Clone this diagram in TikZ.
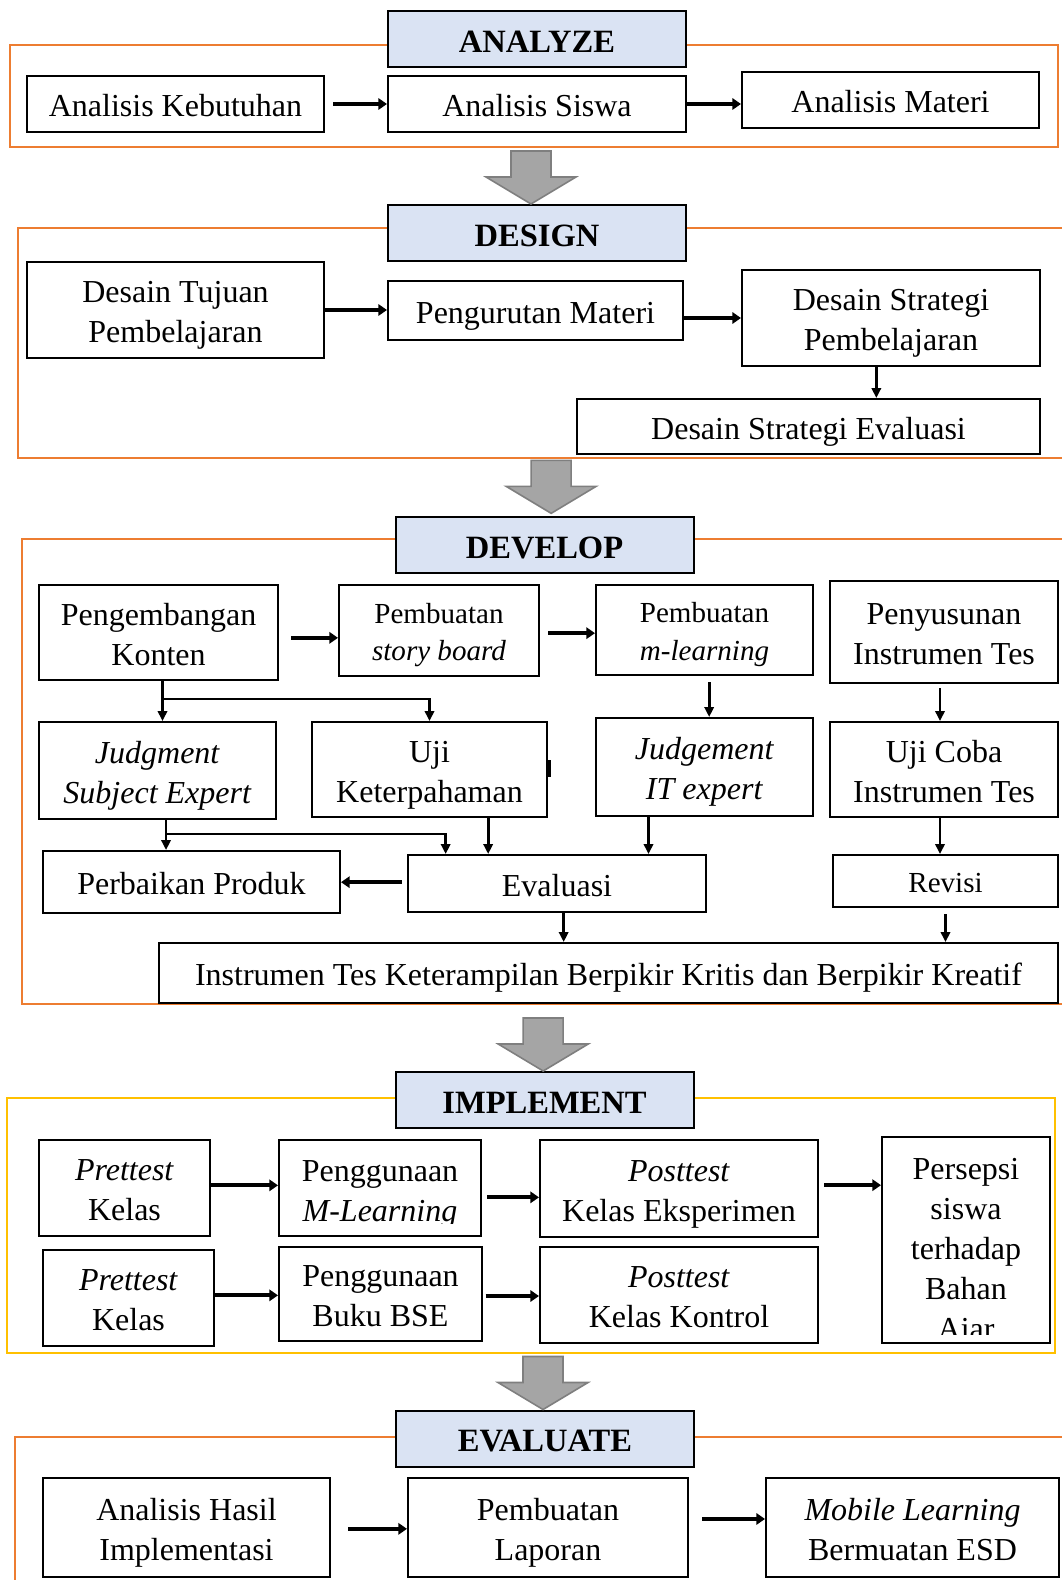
\documentclass[tikz,border=0pt]{standalone}
\usepackage{fontspec}
\setmainfont{Liberation Serif}
\usetikzlibrary{arrows.meta}

\definecolor{oranye}{HTML}{ED7D31}
\definecolor{kuning}{HTML}{FFC000}
\definecolor{birumuda}{HTML}{DAE3F3}
\definecolor{abutua}{HTML}{7F7F7F}
\definecolor{abumuda}{HTML}{A5A5A5}

\newcommand{\teks}{\fontsize{24}{30}\selectfont}
\newcommand{\tekskecil}{\fontsize{21.8}{25.5}\selectfont}
% strut at the start of the first line and the end of the last line
\newcommand{\tiang}{\rule[-0.22em]{0pt}{1.24em}}
% gray block arrow, tip on the given point
\newcommand{\panahabu}[1]{\draw[abu] (#1) -- ++(45,-27) -- ++(-25,0) -- ++(0,-26) -- ++(-40,0) -- ++(0,26) -- ++(-25,0) -- cycle;}

\tikzset{every picture/.style={line width=0.75pt},
  kotak/.style n args={2}{draw, line width=1.5pt, fill=white, align=center, inner sep=0pt, minimum width=#1*0.75pt, minimum height=#2*0.75pt, font=\teks},
  judul/.style={kotak={298}{56}, fill=birumuda, font=\fontsize{24.4}{30}\selectfont\bfseries},
  bingkai/.style={draw=oranye, line width=1.5pt},
  panah/.style={-{Triangle[width=8.5pt,length=6.5pt]}, line width=3pt},
  panahd/.style={-{Triangle[width=7pt,length=7.5pt]}, line width=2pt},
  abu/.style={draw=abutua, fill=abumuda, line width=1.2pt},
  isi/.style={font=\teks, align=center, inner sep=0pt, anchor=north}}

\begin{document}
\begin{tikzpicture}[x=0.75pt,y=0.75pt,yscale=-1,xscale=1]
	\useasboundingbox (0,0) rectangle (1062,1580);
	% frames
	\draw[bingkai] (10,45) rectangle (1058,147);
	\draw[bingkai] (18,228) rectangle (1068,458);
	\draw[bingkai] (22,539) rectangle (1068,1004);
	\draw[bingkai, draw=kuning] (7,1098) rectangle (1055,1353);
	\draw[bingkai] (15,1437) rectangle (1068,1600);

	% ANALYZE
	\node[judul] (analyze) at (537,39.5) {\tiang ANALYZE\tiang};
	\node[kotak={297}{56}] (kebutuhan) at (175.5,104) {\tiang Analisis Kebutuhan\tiang};
	\node[kotak={298}{56}] (siswa) at (537,104) {\tiang Analisis Siswa\tiang};
	\node[kotak={297}{56}] (materi) at (890.5,100) {\tiang Analisis Materi\tiang};
	\draw[panah] ([xshift=6pt]kebutuhan.east) -- (siswa.west);
	\draw[panah] (siswa.east) -- (siswa.east -| materi.west);

	% DESIGN
	\node[judul] (design) at (537,233) {\tiang DESIGN\tiang};
	\node[kotak={297}{96}] (tujuan) at (175.5,310) {\tiang Desain Tujuan\\Pembelajaran\tiang};
	\node[kotak={295}{59}] (urutan) at (535.5,310.5) {\tiang Pengurutan Materi\tiang};
	\node[kotak={298}{96}] (strategi) at (891,318) {\tiang Desain Strategi\\Pembelajaran\tiang};
	\node[kotak={463}{55}] (stratevaluasi) at (808.5,426.5) {\tiang Desain Strategi Evaluasi\tiang};
	\draw[panah] (tujuan.east) -- (tujuan.east -| urutan.west);
	\draw[panah] (urutan.east |- strategi.west) -- (strategi.west);
	\draw[panahd] ([xshift=-11pt]strategi.south) -- ([xshift=-11pt]strategi.south |- stratevaluasi.north);

	% DEVELOP
	\node[judul] (develop) at (544.5,545) {\tiang DEVELOP\tiang};
	\node[kotak={239}{95}] (konten) at (158.5,632.5) {\tiang Pengembangan\\Konten\tiang};
	\node[kotak={200}{91}, font=\tekskecil] (storyboard) at (439,630.5) {\tiang Pembuatan\\\textit{story board}\tiang};
	\node[kotak={217}{90}, font=\tekskecil] (mlearning) at (704.5,630) {\tiang Pembuatan\\\textit{m-learning}\tiang};
	\node[kotak={228}{102}] (penyusunan) at (944,632) {\tiang Penyusunan\\Instrumen Tes\tiang};
	\node[kotak={237}{97}] (judgment) at (157.5,770.5) {\tiang\textit{Judgment}\\\textit{Subject Expert}\tiang};
	\node[kotak={235}{95}] (uji) at (429.5,769.5) {\tiang Uji\\Keterpahaman\tiang};
	\node[kotak={217}{98}] (itexpert) at (704.5,767) {\tiang\textit{Judgement}\\\textit{IT expert}\tiang};
	\node[kotak={228}{95}] (ujicoba) at (944,769.5) {\tiang Uji Coba\\Instrumen Tes\tiang};
	\node[kotak={297}{62}] (perbaikan) at (191.5,882) {\tiang Perbaikan Produk\tiang};
	\node[kotak={298}{57}] (evaluasi) at (557,883.5) {\tiang Evaluasi\tiang};
	\node[kotak={225}{52}, font=\tekskecil] (revisi) at (945.5,881) {\tiang Revisi\tiang};
	\node[kotak={899}{60}] (instrumen) at (608.5,973) {\tiang Instrumen Tes Keterampilan Berpikir Kritis dan Berpikir Kreatif\tiang};
	% thick mark on the right side of Uji Keterpahaman
	\draw[line width=2.2pt] ([xshift=1pt,yshift=-7pt]uji.east) -- ([xshift=1pt,yshift=5.5pt]uji.east);
	\draw[panah] ([xshift=9pt,yshift=4pt]konten.east) -- ([yshift=4pt]konten.east -| storyboard.west);
	\draw[panah] ([xshift=6pt,yshift=2pt]storyboard.east) -- ([yshift=2pt]storyboard.east -| mlearning.west);
	\draw[panahd] ([xshift=3pt]konten.south) -- ([xshift=3pt]konten.south |- judgment.north);
	\draw[panahd] ([xshift=3pt,yshift=13.5pt]konten.south) -| (uji.north);
	\draw[panahd] ([xshift=3.5pt,yshift=4.5pt]mlearning.south) -- ([xshift=3.5pt]mlearning.south |- itexpert.north);
	\draw[panahd] ([xshift=-3pt,yshift=3pt]penyusunan.south) -- ([xshift=-3pt]penyusunan.south |- ujicoba.north);
	\draw[panahd] ([xshift=6.4pt]judgment.south) -- ([xshift=6.4pt]judgment.south |- perbaikan.north);
	\draw[panahd] ([xshift=6.4pt,yshift=10.5pt]judgment.south) -| ([xshift=29pt]evaluasi.north west);
	\draw[panahd] ([xshift=44pt]uji.south) -- ([xshift=44pt]uji.south |- evaluasi.north);
	\draw[panahd] ([xshift=-42pt]itexpert.south) -- ([xshift=-42pt]itexpert.south |- evaluasi.north);
	\draw[panahd] ([xshift=-3pt]ujicoba.south) -- ([xshift=-3pt]ujicoba.south |- revisi.north);
	\draw[panah] ([xshift=-4pt,yshift=-1pt]evaluasi.west) -- ([yshift=-1pt]evaluasi.west -| perbaikan.east);
	\draw[panahd] ([xshift=5pt]evaluasi.south) -- ([xshift=5pt]evaluasi.south |- instrumen.north);
	\draw[panahd] ([yshift=4.5pt]revisi.south) -- (revisi.south |- instrumen.north);

	% IMPLEMENT
	\node[judul] (implement) at (544.5,1100) {\tiang IMPLEMENT\tiang};
	\node[kotak={171}{96}] (pretes1) at (124.5,1188) {\tiang\textit{Prettest}\\Kelas\tiang};
	\node[kotak={202}{96}] (mlearn) at (380,1188) {};
	\begin{scope}
		\clip (mlearn.north west) rectangle ([yshift=-10pt]mlearn.south east);
		\node[isi] (teksmlearn) at ([yshift=16pt]mlearn.north) {Penggunaan\\\textit{M-Learning}};
	\end{scope}
	\node[kotak={278}{97}] (posteks) at (679,1188.5) {\tiang\textit{Posttest}\\Kelas Eksperimen\tiang};
	\node[kotak={168}{206}] (persepsi) at (966,1240) {};
	\begin{scope}
		\clip (persepsi.north west) rectangle ([yshift=-7.5pt]persepsi.south east);
		\node[isi] (tekspersepsi) at ([yshift=16pt]persepsi.north) {Persepsi\\siswa\\terhadap\\Bahan\\Ajar};
	\end{scope}
	\node[kotak={171}{96}] (pretes2) at (128.5,1298) {\tiang\textit{Prettest}\\Kelas\tiang};
	\node[kotak={203}{94}] (bse) at (380.5,1294) {\tiang Penggunaan\\Buku BSE\tiang};
	\node[kotak={278}{96}] (poskon) at (679,1295) {\tiang\textit{Posttest}\\Kelas Kontrol\tiang};
	\draw[panah] ([yshift=-2pt]pretes1.east) -- ([yshift=-2pt]pretes1.east -| mlearn.west);
	\draw[panah] ([xshift=4pt,yshift=7pt]mlearn.east) -- ([yshift=7pt]mlearn.east -| posteks.west);
	\draw[panah] ([xshift=4pt,yshift=-2.5pt]posteks.east) -- ([yshift=-2.5pt]posteks.east -| persepsi.west);
	\draw[panah] ([yshift=-2pt]pretes2.east) -- ([yshift=-2pt]pretes2.east -| bse.west);
	\draw[panah] ([xshift=2pt,yshift=1.5pt]bse.east) -- ([yshift=1.5pt]bse.east -| poskon.west);

	% EVALUATE
	\node[judul] (evaluate) at (545,1438.5) {\tiang EVALUATE\tiang};
	\node[kotak={287}{99}] (hasil) at (186.5,1527.5) {\tiang Analisis Hasil\\Implementasi\tiang};
	\node[kotak={280}{99}] (laporan) at (548,1527.5) {\tiang Pembuatan\\Laporan\tiang};
	\node[kotak={293}{99}] (esd) at (912.5,1527.5) {\tiang\textit{Mobile Learning}\\Bermuatan ESD\tiang};
	\draw[panah] ([xshift=13pt,yshift=1pt]hasil.east) -- ([yshift=1pt]hasil.east -| laporan.west);
	\draw[panah] ([xshift=10pt,yshift=-6.4pt]laporan.east) -- ([yshift=-6.4pt]laporan.east -| esd.west);

	% gray arrows between phases
	\panahabu{[xshift=-4.5pt]design.north}
	\panahabu{[xshift=5pt,yshift=-2pt]develop.north}
	\panahabu{[xshift=-1pt]implement.north}
	\panahabu{[xshift=-1.5pt]evaluate.north}
\end{tikzpicture}
\end{document}
